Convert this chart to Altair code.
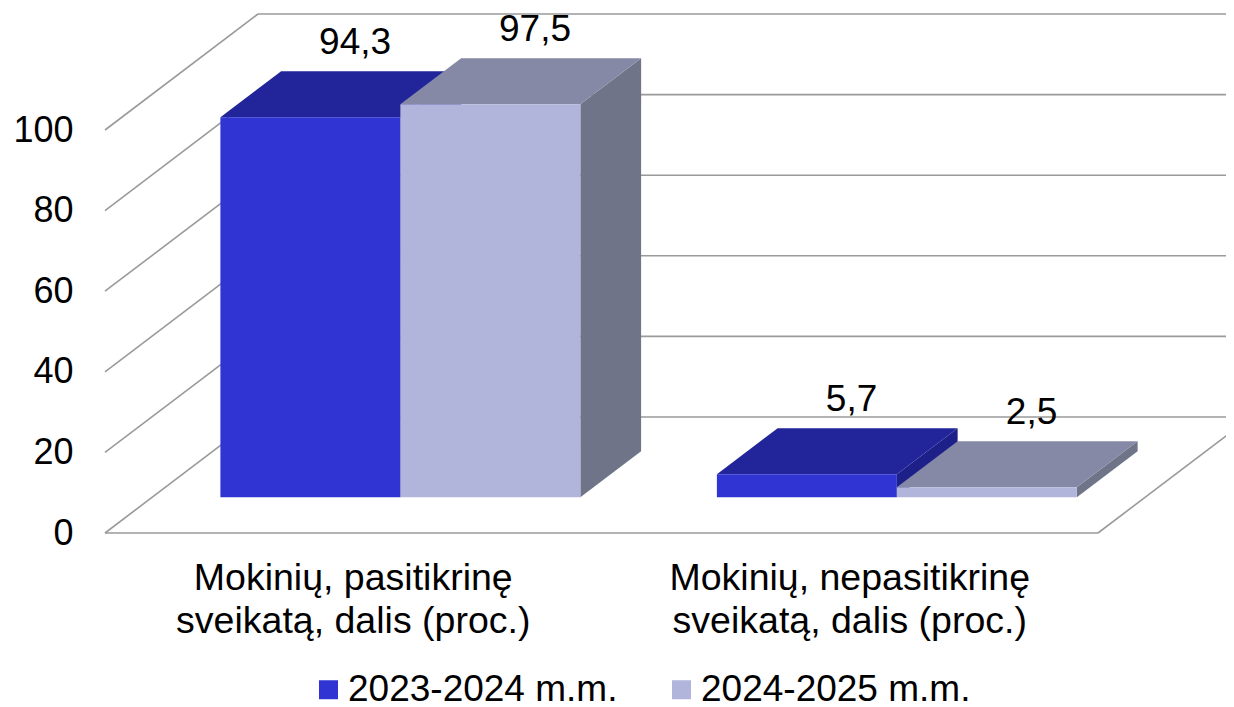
import altair as alt
import pandas as pd

# ---------------- data ----------------
categories = ["Mokinių, pasitikrinę sveikatą, dalis (proc.)",
              "Mokinių, nepasitikrinę sveikatą, dalis (proc.)"]
category_lines = [["Mokinių, pasitikrinę", "sveikatą, dalis (proc.)"],
                  ["Mokinių, nepasitikrinę", "sveikatą, dalis (proc.)"]]
series = ["2023-2024 m.m.", "2024-2025 m.m."]
values_2023_2024 = [94.3, 5.7]
values_2024_2025 = [97.5, 2.5]
y_ticks = [0, 20, 40, 60, 80, 100]

# ---------------- style / layout ----------------
FRONT = ["#2f34d2", "#b1b4db"]
TOP = ["#22259a", "#8689a6"]
SIDE = ["#1d2089", "#6f7489"]
GRID = "#9a9a9a"
FONT = "Liberation Sans"

W, H = 1121, 525
PX_X = 496.5          # pixels per category unit
PX_Y = 4.03           # pixels per value unit
X_MAX = W / PX_X
Y_MAX = H / PX_Y
DEPTH_X = 153 / PX_X  # oblique depth vector (x units)
DEPTH_Y = 116 / PX_Y  # oblique depth vector (value units)
D0, D1 = 0.308, 0.705 # bar depth span (fraction of floor depth)
BW = 0.3625           # bar width (category units)
LABEL_D = 0.6

n_cat = len(categories)
all_values = [values_2023_2024, values_2024_2025]

# ---------------- derived geometry tables ----------------
fronts, tops, sides, labels = [], [], [], []
ddx = (D1 - D0) * DEPTH_X
ddy = (D1 - D0) * DEPTH_Y
for i in range(n_cat):
    for j, s in enumerate(series):
        v = all_values[j][i]
        x0 = i + 0.5 - BW + j * BW + D0 * DEPTH_X
        y0 = D0 * DEPTH_Y
        fid = f"{i}-{j}"
        fronts.append(dict(series=s, x=x0, x2=x0 + BW, y=y0, y2=y0 + v))
        tops.append(dict(fid=fid, col=TOP[j], y=y0 + v, x=x0, x2=x0 + BW))
        tops.append(dict(fid=fid, col=TOP[j], y=y0 + v + ddy, x=x0 + ddx, x2=x0 + BW + ddx))
        sides.append(dict(fid=fid, col=SIDE[j], x=x0 + BW, y=y0, y2=y0 + v))
        sides.append(dict(fid=fid, col=SIDE[j], x=x0 + BW + ddx, y=y0 + ddy, y2=y0 + v + ddy))
        xc = i + 0.5 - BW + j * BW + BW / 2 + LABEL_D * DEPTH_X
        labels.append(dict(x=xc, y=v + LABEL_D * DEPTH_Y,
                           text=f"{v:.1f}".replace(".", ",")))

grid = []
for t in y_ticks:
    grid.append(dict(x=0, y=t, x2=DEPTH_X, y2=t + DEPTH_Y))
    grid.append(dict(x=DEPTH_X, y=t + DEPTH_Y, x2=n_cat + DEPTH_X, y2=t + DEPTH_Y))
grid.append(dict(x=0, y=0, x2=n_cat, y2=0))
grid.append(dict(x=n_cat, y=0, x2=n_cat + DEPTH_X, y2=DEPTH_Y))

cat_df = pd.DataFrame(dict(x=[i + 0.5 for i in range(n_cat)],
                           text=["\n".join(l) for l in category_lines]))

xs = alt.Scale(domain=[0, X_MAX], nice=False, zero=False)
ys = alt.Scale(domain=[0, Y_MAX], nice=False, zero=False)
yaxis = alt.Axis(values=y_ticks, title=None, grid=False, domain=False, ticks=False,
                 tickSize=0, labelFont=FONT, labelFontSize=36, labelColor="black",
                 labelPadding=32)


def X(f="x"):
    return alt.X(f"{f}:Q", scale=xs, axis=None)


def Y(f="y"):
    return alt.Y(f"{f}:Q", scale=ys, axis=yaxis, stack=None)


grid_layer = alt.Chart(pd.DataFrame(grid)).mark_rule(color=GRID, strokeWidth=1.6).encode(
    x=X(), x2="x2:Q", y=Y(), y2="y2:Q")

side_layer = alt.Chart(pd.DataFrame(sides)).mark_area(orient="vertical").encode(
    x=X(), y=Y(), y2="y2:Q", detail="fid:N",
    color=alt.Color("col:N", scale=None))

top_layer = alt.Chart(pd.DataFrame(tops)).mark_area(orient="horizontal").encode(
    y=Y(), x=alt.X("x:Q", scale=xs, axis=None, stack=None), x2="x2:Q", detail="fid:N",
    color=alt.Color("col:N", scale=None))

front_layer = alt.Chart(pd.DataFrame(fronts)).mark_rect().encode(
    x=X(), x2="x2:Q", y=Y(), y2="y2:Q",
    color=alt.Color("series:N", scale=alt.Scale(domain=series, range=FRONT),
                    legend=alt.Legend(orient="none", legendX=205, legendY=663,
                                      direction="horizontal", title=None,
                                      symbolType="square", symbolSize=361,
                                      symbolStrokeWidth=0, symbolOpacity=1,
                                      labelFont=FONT, labelFontSize=37,
                                      labelColor="black", labelLimit=600,
                                      labelOffset=1, columnPadding=45, padding=0)))

label_layer = alt.Chart(pd.DataFrame(labels)).mark_text(
    font=FONT, fontSize=37, color="black", baseline="alphabetic", dy=-29).encode(
    x=X(), y=Y(), text="text:N")

cat_layer = alt.Chart(cat_df).mark_text(
    font=FONT, fontSize=37.5, color="black", baseline="alphabetic",
    lineBreak="\n", lineHeight=43).encode(
    x=X(), y=alt.value(582), text="text:N")

chart = alt.layer(grid_layer, side_layer, top_layer, front_layer, label_layer, cat_layer).properties(
    width=W, height=H, autosize="none",
    padding={"left": 97, "top": 0, "right": 0, "bottom": 190}
).configure_view(stroke=None)

chart.save("out.html", embed_options={"renderer": "svg", "actions": False})
